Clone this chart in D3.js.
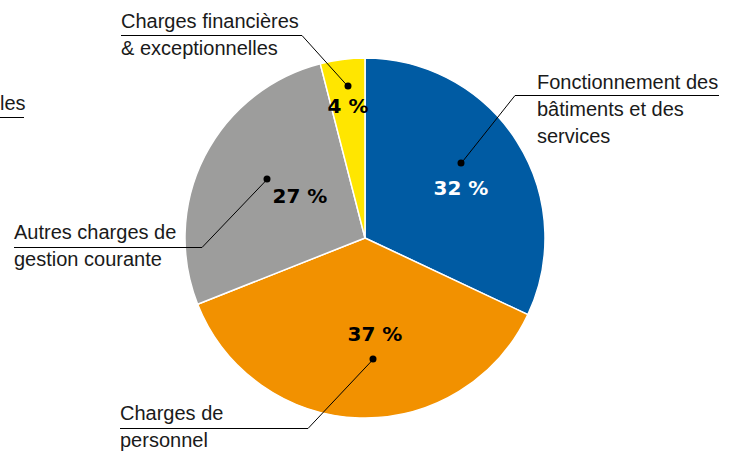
<!DOCTYPE html>
<html>
<head>
<meta charset="utf-8">
<script src="https://d3js.org/d3.v7.min.js"></script>
<style>
  body { margin: 0; background: #fff; }
  #chart text.label { font-family: "Liberation Sans", Arial, sans-serif; font-size: 20px; fill: #1a1a1a; }
  #chart text.pct { font-family: "DejaVu Sans", sans-serif; font-weight: bold; font-size: 20px; text-anchor: middle; }
  #chart .leader { fill: none; stroke: #000; stroke-width: 1; }
</style>
</head>
<body>
<div id="chart"></div>
<script>
(function () {
var width = 737;
var height = 452;

// pie centre and radius
var cx = 365, cy = 238, radius = 180;

// slices in clockwise order from 12 o'clock
var data = [
  { name: "Fonctionnement", value: 32, color: "#005ba3", pctColor: "#fff", pctPos: [461, 195], dot: [461, 163],
    elbow: [515, 95], lineEnd: 719, textX: 537, lines: ["Fonctionnement des", "bâtiments et des", "services"], firstBaseline: 89 },
  { name: "Personnel", value: 37, color: "#f29100", pctColor: "#000", pctPos: [375, 341], dot: [373, 359],
    elbow: [308, 428], lineEnd: 120, textX: 120, lines: ["Charges de", "personnel"], firstBaseline: 420 },
  { name: "Autres", value: 27, color: "#9d9d9c", pctColor: "#000", pctPos: [300, 203], dot: [267, 179],
    elbow: [202, 247], lineEnd: 14, textX: 14, lines: ["Autres charges de", "gestion courante"], firstBaseline: 239 },
  { name: "Financieres", value: 4, color: "#ffe600", pctColor: "#000", pctPos: [348, 113], dot: [348, 86],
    elbow: [302, 35], lineEnd: 121, textX: 121, lines: ["Charges financières", "& exceptionnelles"], firstBaseline: 28 }
];

var lineHeight = 27;

var svg = d3.select("#chart")
    .append("svg")
    .attr("width", width)
    .attr("height", height);

var pie = d3.pie()
    .sort(null)
    .value(function(d) { return d.value; });

var arc = d3.arc()
    .innerRadius(0)
    .outerRadius(radius);

var g = svg.append("g")
    .attr("transform", "translate(" + cx + "," + cy + ")");

g.selectAll(".slice")
    .data(pie(data))
    .enter().append("path")
    .attr("class", "slice")
    .attr("fill", function(d) { return d.data.color; })
    .attr("stroke", "#fff")
    .attr("stroke-width", 1.5)
    .attr("d", arc);

// cut-off label from the neighbouring chart
svg.append("text")
    .attr("class", "label")
    .attr("x", 0)
    .attr("y", 110)
    .text("les");
svg.append("line")
    .attr("class", "leader")
    .attr("x1", 0).attr("y1", 117.5)
    .attr("x2", 24).attr("y2", 117.5);

var ann = svg.selectAll(".ann")
    .data(data)
    .enter().append("g")
    .attr("class", "ann");

ann.append("text")
    .attr("class", "pct")
    .attr("x", function(d) { return d.pctPos[0]; })
    .attr("y", function(d) { return d.pctPos[1]; })
    .attr("fill", function(d) { return d.pctColor; })
    .text(function(d) { return d.value + " %"; });

ann.append("polyline")
    .attr("class", "leader")
    .attr("points", function(d) {
      return [d.dot, d.elbow, [d.lineEnd, d.elbow[1]]].map(function(p) {
        return p[0] + "," + (p[1] + 0.5);
      }).join(" ");
    });

ann.append("circle")
    .attr("cx", function(d) { return d.dot[0]; })
    .attr("cy", function(d) { return d.dot[1]; })
    .attr("r", 3.5)
    .attr("fill", "#000");

ann.each(function(d) {
  var t = d3.select(this);
  d.lines.forEach(function(line, i) {
    t.append("text")
      .attr("class", "label")
      .attr("x", d.textX)
      .attr("y", d.firstBaseline + i * lineHeight)
      .text(line);
  });
});

})();
</script>
</body>
</html>
